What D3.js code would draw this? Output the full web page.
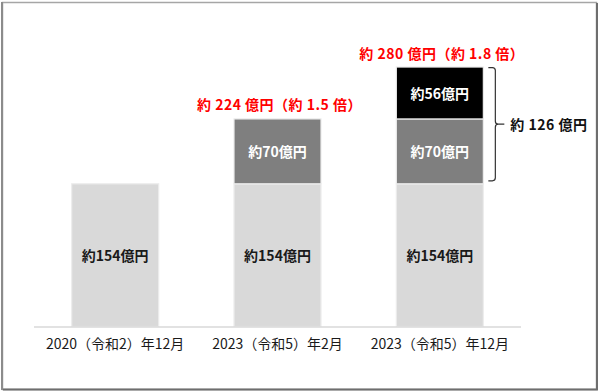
<!DOCTYPE html>
<html><head><meta charset="utf-8">
<script src="https://cdn.jsdelivr.net/npm/d3@7"></script>
<style>
html,body{margin:0;padding:0;background:#fff;}
svg{display:block;font-family:"Noto Sans CJK JP","Noto Sans",sans-serif;}
</style></head>
<body>
<svg id="chart" width="600" height="392"></svg>
<script>
const categories = ["2020（令和2）年12月", "2023（令和5）年2月", "2023（令和5）年12月"];
const seriesNames = ["既存", "増額1", "増額2"];
const baseValues = [154, 154, 154];
const midValues = [0, 70, 70];
const topValues = [0, 0, 56];
const totalLabels = ["", "約 224 億円（約 1.5 倍）", "約 280 億円（約 1.8 倍）"];
const bracketLabel = "約 126 億円";
const yDomain = [0, 300];

const colors = ["#d9d9d9", "#7f7f7f", "#000000"];
const textColors = ["#1a1a1a", "#ffffff", "#ffffff"];

const svg = d3.select("#chart");

// frame
svg.append("rect").attr("x", 2.5).attr("y", 2.5).attr("width", 594).attr("height", 387)
  .attr("fill", "none").attr("stroke", "#a6a6a6").attr("stroke-width", 1.5);
svg.append("line").attr("x1", 2).attr("x2", 2).attr("y1", 2).attr("y2", 390)
  .attr("stroke", "#8c8c8c").attr("stroke-width", 2);
svg.append("line").attr("x1", 597).attr("x2", 597).attr("y1", 3).attr("y2", 390)
  .attr("stroke", "#6e6e6e").attr("stroke-width", 2);
svg.append("line").attr("x1", 3).attr("x2", 598).attr("y1", 389.5).attr("y2", 389.5)
  .attr("stroke", "#6e6e6e").attr("stroke-width", 2);

const x = d3.scaleBand().domain(categories).range([34, 521]).paddingInner(0.464).paddingOuter(0.232);
const y = d3.scaleLinear().domain(yDomain).range([326.5, 48.5]);

const table = categories.map((c, i) => ({cat: c, s0: baseValues[i], s1: midValues[i], s2: topValues[i]}));
const stack = d3.stack().keys(["s0", "s1", "s2"])(table);

const g = svg.append("g");
stack.forEach((layer, li) => {
  layer.forEach((d, i) => {
    const v = d[1] - d[0];
    if (v <= 0) return;
    g.append("rect")
      .attr("x", x(categories[i]))
      .attr("y", y(d[1]))
      .attr("width", x.bandwidth())
      .attr("height", y(d[0]) - y(d[1]))
      .attr("fill", colors[li])
      .attr("stroke", "#ececec").attr("stroke-width", 1.2);
    g.append("text")
      .attr("x", x(categories[i]) + x.bandwidth() / 2)
      .attr("y", (y(d[0]) + y(d[1])) / 2)
      .attr("text-anchor", "middle").attr("dominant-baseline", "central")
      .attr("font-size", 14).attr("font-weight", "bold")
      .attr("fill", textColors[li])
      .text("約" + v + "億円");
  });
});

// baseline
svg.append("line").attr("x1", 34).attr("x2", 521).attr("y1", y(0) + 0.5).attr("y2", y(0) + 0.5)
  .attr("stroke", "#d9d9d9").attr("stroke-width", 1.5);

// x axis labels
const xAxis = d3.axisBottom(x).tickSize(0).tickPadding(0);
const ax = svg.append("g").attr("transform", `translate(0,${y(0) + 18})`).call(xAxis);
ax.select(".domain").remove();
ax.selectAll("text").attr("font-size", 14).attr("fill", "#1a1a1a")
  .attr("font-family", '"Noto Sans CJK JP","Noto Sans",sans-serif')
  .attr("dy", "0.35em").attr("y", 0);

// totals
table.forEach((d, i) => {
  if (!totalLabels[i]) return;
  const tot = d.s0 + d.s1 + d.s2;
  svg.append("text")
    .attr("x", x(d.cat) + x.bandwidth() / 2 + 2)
    .attr("y", y(tot) - 14.5)
    .attr("text-anchor", "middle").attr("dominant-baseline", "central")
    .attr("font-size", 14).attr("font-weight", "bold").attr("letter-spacing", 0.5)
    .attr("fill", "#ff0000")
    .text(totalLabels[i]);
});

// bracket on last bar
const last = table[table.length - 1];
const bTop = y(last.s0 + last.s1 + last.s2) + 0.5;
const bBot = y(last.s0) - 3;
const bx0 = x(last.cat) + x.bandwidth() + 5;
const bx = bx0 + 7;
const bMid = (bTop + bBot) / 2;
const r = 3;
const p = d3.path();
p.moveTo(bx0, bTop);
p.lineTo(bx - r, bTop);
p.quadraticCurveTo(bx, bTop, bx, bTop + r);
p.lineTo(bx, bMid - r);
p.quadraticCurveTo(bx, bMid, bx + r, bMid);
p.lineTo(bx + 9, bMid);
p.moveTo(bx + r, bMid);
p.quadraticCurveTo(bx, bMid, bx, bMid + r);
p.lineTo(bx, bBot - r);
p.quadraticCurveTo(bx, bBot, bx - r, bBot);
p.lineTo(bx0, bBot);
svg.append("path").attr("d", p.toString()).attr("fill", "none")
  .attr("stroke", "#333").attr("stroke-width", 1.2);
svg.append("text")
  .attr("x", bx + 15).attr("y", bMid)
  .attr("dominant-baseline", "central")
  .attr("font-size", 14).attr("font-weight", "bold").attr("letter-spacing", 0.5)
  .attr("fill", "#111")
  .text(bracketLabel);
</script>
</body></html>
